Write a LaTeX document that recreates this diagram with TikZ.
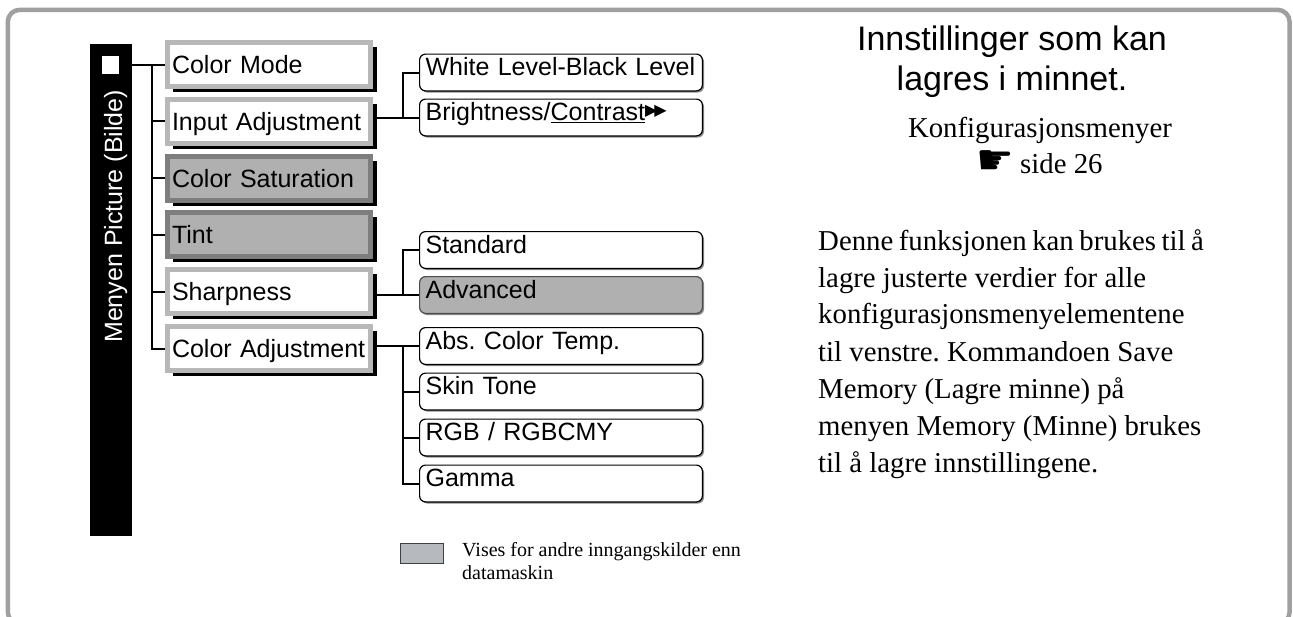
\documentclass[tikz,border=0pt]{standalone}
\usepackage{fontspec}
\setmainfont{Liberation Serif}
\setsansfont{Liberation Sans}
\newfontfamily\dejavu{DejaVu Sans}
\usetikzlibrary{backgrounds,shadows}
\definecolor{framegray}{HTML}{A0A0A0}
\definecolor{lightborder}{HTML}{B8B8B8}
\definecolor{boxgray}{HTML}{B0B0B0}
\definecolor{darkborder}{HTML}{7E7E7E}
\definecolor{leggray}{HTML}{B6B9BD}
\frenchspacing
\begin{document}
\frenchspacing
\begin{tikzpicture}[x=1pt,y=-1pt,
  lone/.style={rectangle, draw=lightborder, line width=5pt, fill=white,
    minimum width=203pt, minimum height=44pt, text width=194pt,
    inner xsep=4.5pt, inner ysep=0pt, align=left, text height=18pt, text depth=0pt,
    font=\sffamily\fontsize{25}{30}\selectfont},
  lonegray/.style={lone, draw=darkborder, fill=boxgray},
  ltwo/.style={rectangle, rounded corners=6pt, draw=black, line width=1.2pt, fill=white,
    minimum width=282.8pt, minimum height=36.8pt, text width=270.8pt,
    inner xsep=6pt, inner ysep=0pt, align=left, text height=18pt, text depth=12pt,
    font=\sffamily\fontsize{25}{30}\selectfont,
    drop shadow={shadow xshift=1.6pt, shadow yshift=-1.6pt, fill=black!45, opacity=1}},
  ltwogray/.style={ltwo, fill=boxgray, draw=black!70},
  tree/.style={draw=black, line width=2pt},
  txt/.style={inner sep=0pt, anchor=base west},
  title/.style={inner sep=0pt, anchor=base, font=\sffamily\fontsize{34}{40}\selectfont},
  body/.style={inner sep=0pt, anchor=base west, font=\fontsize{28.8}{36}\selectfont},
  legtext/.style={inner sep=0pt, anchor=base west, font=\fontsize{20}{23}\selectfont}
]
\useasboundingbox (0,0) rectangle (1293,616);
% outer frame
\draw[framegray, line width=4.5pt, rounded corners=12pt] (7.8,9.8) rectangle (1289.6,624);

% vertical black bar
\node[fill=black, minimum width=42pt, minimum height=492pt, inner sep=0pt, outer sep=0pt] (bar) at (111,290) {};
\node[fill=white, minimum width=17pt, minimum height=18pt, inner sep=0pt] (sq) at (110.5,65) {};
\node[rotate=90, txt, text=white, font=\sffamily\fontsize{25}{30}\selectfont] (bt) at (122,343) {Menyen Picture (Bilde)};

% level 1
\node[lone] (cm) at (269,64.5) {Color Mode};
\node[lone] (ia) at (269,121.3) {Input Adjustment};
\node[lonegray] (cs) at (269,178.1) {Color Saturation};
\node[lonegray] (ti) at (269,234.9) {Tint};
\node[lone] (sh) at (269,291.7) {Sharpness};
\node[lone] (ca) at (269,348.5) {Color Adjustment};

\begin{scope}[on background layer]
\foreach \n in {cm,ia,cs,ti,sh,ca}
  \fill[black] ([shift={(8,7)}]\n.north west) rectangle ([shift={(4,3)}]\n.south east);
\end{scope}

% level 2
\node[ltwo] (wl) at (561,72.5) {White Level-Black Level};
\node[ltwo] (bc) at (561,117.5) {Brightness/\underline{Contrast}\raisebox{5pt}{\dejavu\fontsize{16}{16}\selectfont ▶\kern-3pt▶}};
\node[ltwo] (st) at (561,250) {Standard};
\node[ltwogray] (ad) at (561,295) {Advanced};
\node[ltwo] (ab) at (561,346) {Abs. Color Temp.};
\node[ltwo] (sk) at (561,391.5) {Skin Tone};
\node[ltwo] (rg) at (561,437.5) {RGB / RGBCMY};
\node[ltwo] (ga) at (561,483.5) {Gamma};

% tree connectors
\coordinate (tr) at (152,0);
\coordinate (tr2) at (403,0);
\draw[tree] (bar.east |- cm.west) -- (cm.west);
\draw[tree] (tr |- cm.west) |- (ca.west);
\foreach \n in {ia,cs,ti,sh} \draw[tree] (tr |- \n.west) -- (\n.west);
\draw[tree] (ia.east |- bc.west) -- (bc.west);
\draw[tree] (tr2 |- bc.west) |- (wl.west);
\draw[tree] (sh.east |- ad.west) -- (ad.west);
\draw[tree] (tr2 |- ad.west) |- (st.west);
\draw[tree] (ca.east |- ab.west) -- (ab.west);
\draw[tree] (tr2 |- ab.west) |- (ga.west);
\foreach \n in {sk,rg} \draw[tree] (tr2 |- \n.west) -- (\n.west);

% legend
\node[draw=black!75, line width=0.8pt, fill=leggray, minimum width=43pt, minimum height=20pt, inner sep=0pt] (lg) at (421.5,553) {};
\node[legtext] (lt1) at (462,556) {Vises for andre inngangskilder enn};
\node[legtext] (lt2) at (462,579) {datamaskin};

% right text
\node[title] (t1) at (1012,50) {Innstillinger som kan};
\node[title] (t2) at (1012,90) {lagres i minnet.};
\node[inner sep=0pt, anchor=base, font=\fontsize{28.8}{36}\selectfont] (k1) at (1040,137) {Konfigurasjonsmenyer};
\node[txt, font=\dejavu\fontsize{42}{44}\selectfont] (k2) at (976,174) {☛};
\node[body] (k3) at (1020,173) {side 26};

\node[body] (b1) at (818,250) {{\spaceskip=0.19em\relax Denne funksjonen kan brukes til å}};
\node[body] (b2) at (818,287) {lagre justerte verdier for alle};
\node[body] (b3) at (818,323) {konfigurasjonsmenyelementene};
\node[body] (b4) at (818,361) {til venstre. Kommandoen Save};
\node[body] (b5) at (818,398) {Memory (Lagre minne) på};
\node[body] (b6) at (818,435) {menyen Memory (Minne) brukes};
\node[body] (b7) at (818,472) {til å lagre innstillingene.};
\end{tikzpicture}
\end{document}
